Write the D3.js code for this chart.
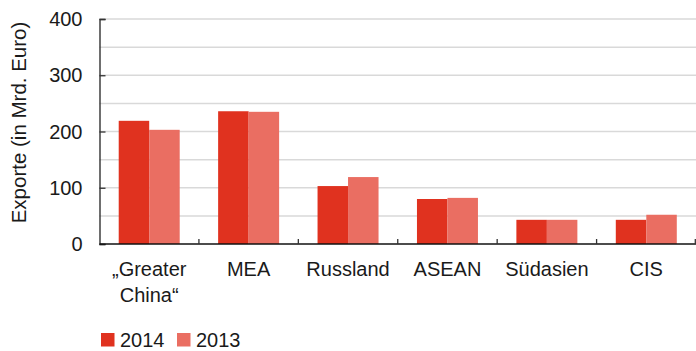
<!DOCTYPE html>
<html>
<head>
<meta charset="utf-8">
<script src="https://cdn.jsdelivr.net/npm/d3@7"></script>
<style>
  body { margin: 0; background: #fff; }
  text { font-family: "Liberation Sans", Arial, sans-serif; fill: #1a1a1a; }
</style>
</head>
<body>
<div class="svg-container"></div>
<script>
// data
var regions = [["\u201EGreater", "China\u201C"], ["MEA"], ["Russland"], ["ASEAN"], ["S\u00FCdasien"], ["CIS"]];
var years = ["2014", "2013"];
var values2014 = [219, 236, 103, 80, 43, 43];
var values2013 = [203, 235, 119, 82, 43, 52];
var yTicks = [0, 100, 200, 300, 400];

var colors = {"2014": "#e0321f", "2013": "#ea6e62"};

// set up margin
var margin = {top: 19, right: 0, bottom: 107, left: 99.5},
    width = 696 - margin.left - margin.right,
    height = 351 - margin.top - margin.bottom;

var svg = d3.select(".svg-container").append("svg")
    .attr("width", 696)
    .attr("height", 351);

var g = svg.append("g")
    .attr("transform", "translate(" + margin.left + "," + margin.top + ")");

var names = regions.map(function (r) { return r.join(" "); });

var x0 = d3.scaleBand().domain(names).range([0, width]).padding(0),
    x1 = d3.scaleBand().domain(years).range([0, x0.bandwidth()]).paddingInner(0).paddingOuter(0.63),
    y = d3.scaleLinear().domain([0, 400]).range([height, 0]);

var rows = names.map(function (n, i) {
    return {name: n, lines: regions[i], values: [
        {year: "2014", value: values2014[i]},
        {year: "2013", value: values2013[i]}
    ]};
});

// grid lines every 50
g.append("g")
    .attr("class", "grid")
    .selectAll("line")
    .data(d3.range(50, 401, 50))
    .enter().append("line")
    .attr("x1", 0)
    .attr("x2", width)
    .attr("y1", function (d) { return y(d); })
    .attr("y2", function (d) { return y(d); })
    .attr("stroke", "#d9d9d9")
    .attr("stroke-width", 1.5);

// bars
var group = g.selectAll(".region")
    .data(rows)
    .enter().append("g")
    .attr("class", "region")
    .attr("transform", function (d) { return "translate(" + x0(d.name) + ",0)"; });

group.selectAll("rect")
    .data(function (d) { return d.values; })
    .enter().append("rect")
    .attr("x", function (d) { return x1(d.year); })
    .attr("width", x1.bandwidth())
    .attr("y", function (d) { return y(d.value); })
    .attr("height", function (d) { return height - y(d.value); })
    .attr("fill", function (d) { return colors[d.year]; });

// y axis, ticks pointing inward
var yAxis = g.append("g")
    .attr("class", "axis axis--y")
    .call(d3.axisRight(y).tickValues(yTicks).tickSize(6).tickFormat(""));
yAxis.select(".domain").attr("stroke", "#222").attr("stroke-width", 1.3);
yAxis.selectAll(".tick line").attr("stroke", "#333").attr("stroke-width", 1.3);

g.append("g")
    .selectAll("text")
    .data(yTicks)
    .enter().append("text")
    .attr("x", -17)
    .attr("y", function (d) { return y(d); })
    .attr("dy", "0.35em")
    .style("text-anchor", "end")
    .attr("font-size", "20px")
    .text(function (d) { return d; });

// x axis with ticks between categories
var bounds = names.map(function (n) { return x0(n); }).concat([width]);
g.append("line")
    .attr("x1", 0).attr("x2", width)
    .attr("y1", height).attr("y2", height)
    .attr("stroke", "#111")
    .attr("stroke-width", 1.4);

g.append("g")
    .selectAll("line")
    .data(bounds.slice(1))
    .enter().append("line")
    .attr("x1", function (d) { return Math.min(d, width - 0.7); })
    .attr("x2", function (d) { return Math.min(d, width - 0.7); })
    .attr("y1", height)
    .attr("y2", height - 5)
    .attr("stroke", "#333")
    .attr("stroke-width", 1.3);

// category labels
var labels = g.append("g")
    .selectAll("text")
    .data(rows)
    .enter().append("text")
    .attr("x", function (d) { return x0(d.name) + x0.bandwidth() / 2; })
    .attr("y", height + 31.5)
    .style("text-anchor", "middle")
    .attr("font-size", "20px");

labels.selectAll("tspan")
    .data(function (d) { return d.lines; })
    .enter().append("tspan")
    .attr("x", function () { return d3.select(this.parentNode).attr("x"); })
    .attr("dy", function (d, i) { return i === 0 ? 0 : 26; })
    .text(function (d) { return d; });

// y axis title
svg.append("text")
    .attr("transform", "translate(25.5," + (margin.top + height / 2 - 9) + ") rotate(-90)")
    .style("text-anchor", "middle")
    .attr("font-size", "20.5px")
    .text("Exporte (in Mrd. Euro)");

// legend
var legend = svg.append("g")
    .selectAll(".legend")
    .data(years)
    .enter().append("g")
    .attr("class", "legend")
    .attr("transform", function (d, i) { return "translate(" + (101 + i * 76) + ",333)"; });

legend.append("rect")
    .attr("width", 13.5)
    .attr("height", 13.5)
    .attr("fill", function (d) { return colors[d]; });

legend.append("text")
    .attr("x", 19)
    .attr("y", 13.5)
    .attr("font-size", "20px")
    .text(function (d) { return d; });
</script>
</body>
</html>
